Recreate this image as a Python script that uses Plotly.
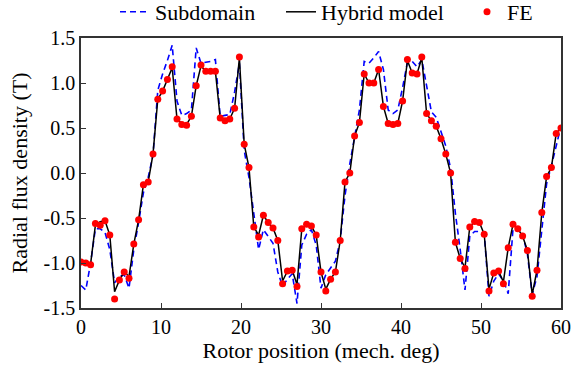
import plotly.graph_objects as go

# Rotor position (mech. deg), sampled every 0.6 deg
rotor_position = [round(i * 0.6, 1) for i in range(101)]

fe_values = [
    -0.99, -1.00, -1.02, -0.56, -0.58, -0.53, -0.69, -1.40, -1.19, -1.10,
    -1.17, -0.79, -0.52, -0.13, -0.10, 0.21, 0.82, 0.91, 1.04, 1.18,
    0.60, 0.54, 0.53, 0.63, 0.97, 1.20, 1.13, 1.13, 1.13, 0.61,
    0.58, 0.60, 0.72, 1.29, 0.32, 0.06, -0.60, -0.71, -0.47, -0.55,
    -0.61, -0.75, -1.23, -1.09, -1.08, -1.26, -0.62, -0.57, -0.59, -0.69,
    -1.10, -1.31, -1.18, -1.10, -0.75, -0.10, 0.00, 0.41, 0.56, 1.10,
    1.00, 1.00, 1.15, 0.74, 0.55, 0.54, 0.55, 0.80, 1.26, 1.11,
    1.10, 1.29, 0.66, 0.58, 0.52, 0.38, 0.21, 0.00, -0.77, -0.95,
    -1.06, -0.60, -0.54, -0.55, -0.68, -1.31, -1.11, -1.09, -1.23, -0.83,
    -0.57, -0.62, -0.70, -0.86, -1.37, -1.08, -0.44, -0.04, 0.06, 0.44,
    0.50,
]

hybrid_values = [
    -0.99, -1.00, -1.01, -0.58, -0.54, -0.53, -0.69, -1.32, -1.19, -1.10,
    -1.15, -0.79, -0.52, -0.13, -0.10, 0.21, 0.82, 0.91, 1.04, 1.17,
    0.60, 0.55, 0.54, 0.63, 0.97, 1.19, 1.13, 1.13, 1.13, 0.61,
    0.58, 0.60, 0.72, 1.28, 0.32, 0.06, -0.60, -0.69, -0.47, -0.55,
    -0.61, -0.75, -1.20, -1.09, -1.08, -1.24, -0.62, -0.57, -0.59, -0.69,
    -1.10, -1.29, -1.18, -1.10, -0.75, -0.10, 0.00, 0.41, 0.56, 1.10,
    1.00, 1.00, 1.15, 0.74, 0.55, 0.54, 0.55, 0.80, 1.25, 1.11,
    1.10, 1.28, 0.66, 0.58, 0.52, 0.38, 0.21, 0.00, -0.77, -0.95,
    -1.05, -0.60, -0.54, -0.55, -0.68, -1.29, -1.11, -1.09, -1.21, -0.83,
    -0.57, -0.62, -0.70, -0.86, -1.35, -1.08, -0.44, -0.04, 0.06, 0.44,
    0.50,
]

subdomain_values = [
    -1.25, -1.30, -1.00, -0.62, -0.62, -0.66, -0.85, -1.22, -1.15, -1.13,
    -1.28, -0.85, -0.55, -0.22, -0.05, 0.20, 0.92, 1.10, 1.25, 1.42,
    0.80, 0.64, 0.66, 0.70, 1.39, 1.22, 1.23, 1.24, 1.26, 0.63,
    0.64, 0.65, 0.90, 1.22, 0.25, -0.05, -0.45, -0.85, -0.63, -0.71,
    -0.78, -1.10, -1.26, -1.18, -1.12, -1.45, -0.80, -0.68, -0.63, -0.80,
    -1.28, -1.13, -1.05, -0.98, -0.75, -0.25, 0.10, 0.42, 0.70, 1.24,
    1.22, 1.28, 1.35, 1.15, 0.70, 0.66, 0.70, 0.95, 1.23, 1.24,
    1.18, 1.26, 0.95, 0.68, 0.62, 0.45, 0.30, 0.05, -0.45, -0.85,
    -1.30, -0.70, -0.65, -0.65, -0.67, -1.37, -1.20, -1.12, -1.20, -1.34,
    -0.62, -0.60, -0.68, -0.90, -1.35, -1.15, -0.60, -0.12, 0.08, 0.30,
    0.52,
]

x_tick_values = [0, 10, 20, 30, 40, 50, 60]
x_tick_labels = ["0", "10", "20", "30", "40", "50", "60"]
y_tick_values = [-1.5, -1.0, -0.5, 0.0, 0.5, 1.0, 1.5]
y_tick_labels = ["-1.5", "-1.0", "-0.5", "0.0", "0.5", "1.0", "1.5"]

FONT = "Liberation Serif, Times New Roman, serif"
W, H = 573, 365

fig = go.Figure()
fig.add_trace(go.Scatter(
    x=rotor_position, y=subdomain_values, mode="lines", name="Subdomain",
    line=dict(color="#0000ff", width=1.6, dash="6px,4px"), legend="legend",
))
fig.add_trace(go.Scatter(
    x=rotor_position, y=hybrid_values, mode="lines", name="Hybrid model",
    line=dict(color="#000000", width=1.5), legend="legend2",
))
fig.add_trace(go.Scatter(
    x=rotor_position, y=fe_values, mode="markers", name="FE",
    marker=dict(color="#ff0000", size=7), legend="legend3",
))


def leg(px):
    return dict(orientation="h", xref="container", yref="container",
                x=px / W, y=1 - 12 / H, yanchor="middle", xanchor="left",
                bgcolor="rgba(0,0,0,0)", borderwidth=0, visible=True,
                font=dict(family=FONT, size=22, color="#000"))


fig.update_layout(
    width=W, height=H,
    showlegend=True,
    margin=dict(l=81, r=12, t=38, b=57, autoexpand=False),
    paper_bgcolor="white", plot_bgcolor="white",
    font=dict(family=FONT, size=20, color="#000"),
    legend=leg(115),
    legend2=leg(281),
    legend3=leg(467),
    xaxis=dict(
        range=[0, 60], tickvals=x_tick_values, ticktext=x_tick_labels,
        ticks="inside", ticklen=5, tickwidth=1.2, tickcolor="#333",
        showline=True, linecolor="#333", linewidth=1.5, mirror=True,
        showgrid=False, zeroline=False,
        title=dict(text="Rotor position (mech. deg)", standoff=2,
                   font=dict(family=FONT, size=22)),
        tickfont=dict(family=FONT, size=20),
    ),
    yaxis=dict(
        range=[-1.5, 1.5], tickvals=y_tick_values, ticktext=y_tick_labels,
        ticks="inside", ticklen=5, tickwidth=1.2, tickcolor="#333",
        showline=True, linecolor="#333", linewidth=1.5, mirror=True,
        showgrid=False, zeroline=False,
        title=dict(text="Radial flux density (T)", standoff=10,
                   font=dict(family=FONT, size=22)),
        tickfont=dict(family=FONT, size=20),
    ),
)

fig.write_html(
    "out.html",
    config={"displayModeBar": False},
    post_script="document.body.style.margin='0';document.body.style.overflow='hidden';",
)
